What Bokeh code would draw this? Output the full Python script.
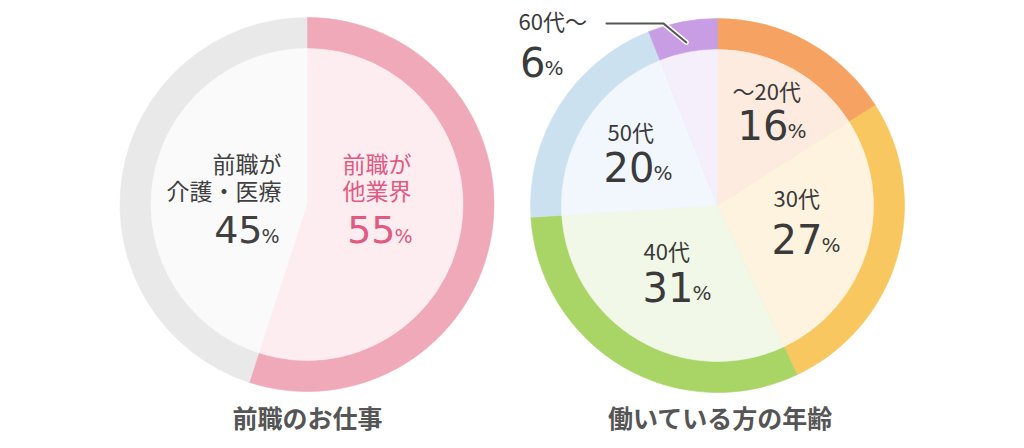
import numpy as np
from bokeh.plotting import figure
from bokeh.models import Range1d, ColumnDataSource
from bokeh.embed import file_html
from bokeh.resources import INLINE
from bokeh.core.properties import value

# ---------------- data ----------------
job_title = "前職のお仕事"
job_line1 = ["前職が", "前職が"]
job_line2 = ["他業界", "介護・医療"]
job_values = [55, 45]            # clockwise from 12 o'clock

age_title = "働いている方の年齢"
age_labels = ["〜20代", "30代", "40代", "50代", "60代〜"]
age_values = [16, 27, 31, 20, 6]  # clockwise from 12 o'clock

# ---------------- styles / layout ----------------
job_ring = ["#EFA9B9", "#E9E9E9"]
job_fill = ["#FDEDF1", "#FAFAFA"]
job_text = ["#E05A82", "#404040"]
age_ring = ["#F5A263", "#F8C75F", "#A9D466", "#CCE1F0", "#C89DE3"]
age_fill = ["#FDEBDF", "#FEF3DF", "#F2F8E7", "#F1F7FC", "#F5EEFB"]

W, H = 1008, 440
def X(px): return px
def Y(py): return H - py

R_OUT, R_IN = 187, 156
LC = (X(306.5), Y(204))
RC = (X(717), Y(205))

JP = value("Noto Sans CJK JP")
NUM = value("DejaVu Sans")
DY = -3  # vertical correction for 'middle' baseline

p = figure(width=W, height=H, x_range=Range1d(0, W), y_range=Range1d(0, H),
           output_backend="svg", toolbar_location=None, min_border=0)
p.axis.visible = False
p.grid.visible = False
p.outline_line_color = None
p.background_fill_color = "white"
p.border_fill_color = "white"


def angles(vals):
    v = np.asarray(vals, float)
    c = np.cumsum(v) / v.sum()
    c0 = np.concatenate([[0.0], c[:-1]])
    return np.pi / 2 - 2 * np.pi * c, np.pi / 2 - 2 * np.pi * c0


def donut(center, vals, ring, fill):
    s, e = angles(vals)
    n = len(vals)
    src_o = ColumnDataSource(dict(x=[center[0]] * n, y=[center[1]] * n, s=s, e=e, c=ring))
    src_i = ColumnDataSource(dict(x=[center[0]] * n, y=[center[1]] * n, s=s, e=e, c=fill))
    p.wedge(x="x", y="y", radius=R_OUT, start_angle="s", end_angle="e",
            fill_color="c", line_color="c", line_width=0.6, source=src_o)
    p.wedge(x="x", y="y", radius=R_IN, start_angle="s", end_angle="e",
            fill_color="c", line_color="c", line_width=0.6, source=src_i)


donut(LC, job_values, job_ring, job_fill)
donut(RC, age_values, age_ring, age_fill)


def txt(x, y, t, size, color, font=JP, align="left", style="normal"):
    p.text(x=[X(x)], y=[Y(y + DY)], text=[t], text_font=font, text_font_size=f"{size}px",
           text_color=color, text_align=align, text_baseline="middle",
           text_font_style=style)


def pct(split_x, cy, v, size, color, psize):
    txt(split_x, cy, str(v), size, color, font=NUM, align="right")
    txt(split_x - 1, cy + 0.346 * (size - psize), "%", psize, color, font=NUM, align="left")


# ----- left chart labels -----
# 他業界 (pink, right side)
txt(342, 165, job_line1[0], 23, job_text[0])
txt(342, 192, job_line2[0], 23, job_text[0])
pct(395, 232, job_values[0], 38, job_text[0], 19)
# 介護・医療 (gray, left side)
txt(281, 165, job_line1[1], 23, job_text[1], align="right")
txt(281, 192, job_line2[1], 23, job_text[1], align="right")
pct(262, 232, job_values[1], 38, job_text[1], 19)

# ----- right chart labels -----
dark = "#3a3a3a"
label_pos = [(732, 92), (773, 199), (643, 252), (607, 133), (518, 22)]
pct_pos = [(788, 127), (822, 241), (693, 289), (654, 169), (545, 64)]
for lab, (lx, ly), (sx, cy), v in zip(age_labels, label_pos, pct_pos, age_values):
    txt(lx, ly, lab, 22, dark)
    pct(sx, cy, v, 40, dark, 20)

# leader line for 60代〜 : end point on the slice's mid-angle
s, e = angles(age_values)
mid = (s[-1] + e[-1]) / 2
r_end = 166
ex, ey = RC[0] + r_end * np.cos(mid), RC[1] + r_end * np.sin(mid)
lx = [X(606), X(663), ex]
ly = [Y(23), Y(23), ey]
p.line(lx, ly, line_color="white", line_width=5, line_cap="round", line_join="round")
p.line(lx, ly, line_color="#555555", line_width=2, line_cap="round", line_join="round")

# ----- titles -----
txt(307, 419, job_title, 25, "#555555", align="center", style="bold")
txt(720, 419, age_title, 25, "#555555", align="center", style="bold")

open("out.html", "w").write(file_html(p, INLINE))
